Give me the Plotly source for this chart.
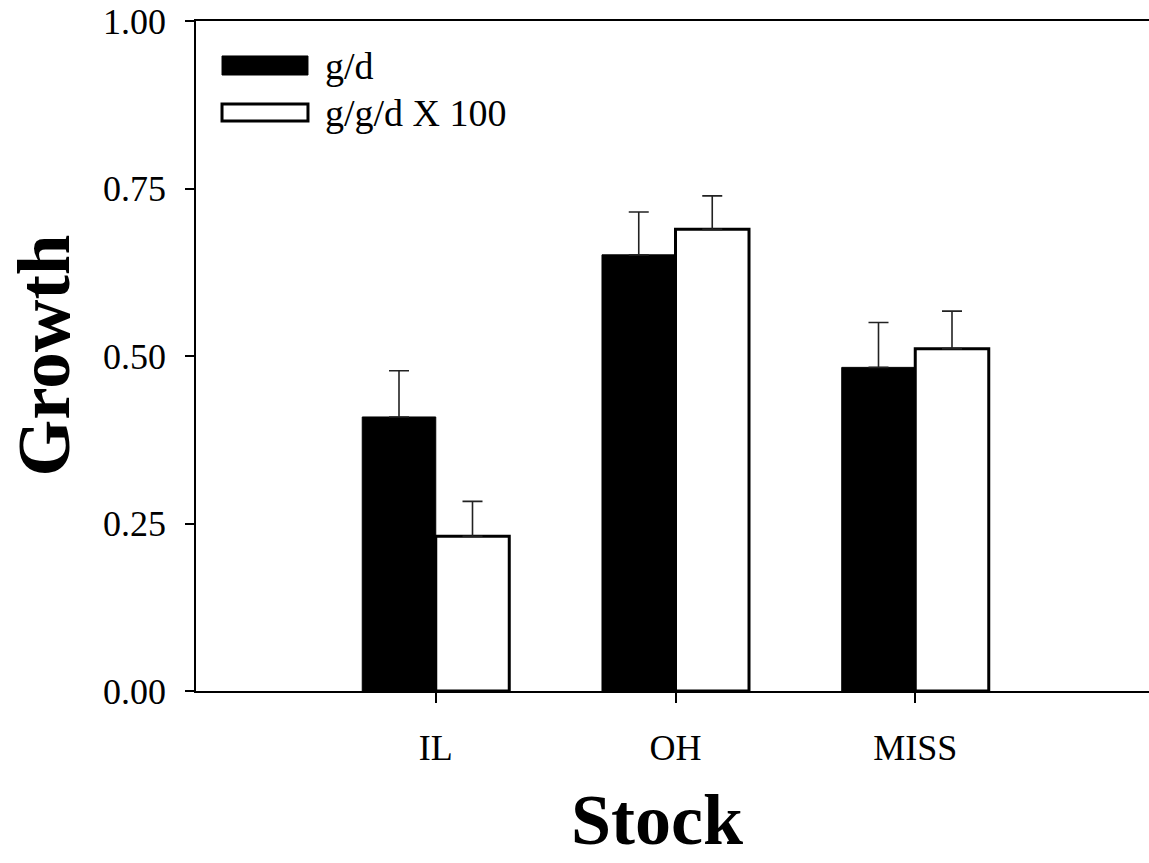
import plotly.graph_objects as go

# Growth by stock: mean g/d and g/g/d x 100 with upper standard-error bars
stocks = ["IL", "OH", "MISS"]
growth_gd = [0.409, 0.651, 0.483]
growth_gd_err = [0.069, 0.064, 0.067]
growth_ggd = [0.231, 0.689, 0.511]
growth_ggd_err = [0.052, 0.050, 0.056]
series_names = ["g/d", "g/g/d X 100"]
y_ticks = [0.0, 0.25, 0.50, 0.75, 1.00]

FONT = "Liberation Serif, Times New Roman, serif"
positions = [i + 1 for i in range(len(stocks))]
bar_w = 0.3066

fig = go.Figure()
fig.add_trace(go.Bar(
    x=positions, y=growth_gd, width=bar_w, offset=-bar_w,
    name=series_names[0],
    marker=dict(color="black", line=dict(color="black", width=1)),
    error_y=dict(type="data", symmetric=False, array=growth_gd_err,
                 arrayminus=[0] * len(stocks), color="#222222",
                 thickness=1.6, width=10),
))
fig.add_trace(go.Bar(
    x=positions, y=growth_ggd, width=bar_w, offset=0,
    name=series_names[1],
    marker=dict(color="white", line=dict(color="black", width=3)),
    error_y=dict(type="data", symmetric=False, array=growth_ggd_err,
                 arrayminus=[0] * len(stocks), color="#222222",
                 thickness=1.6, width=10),
))

L, R, T, B = 196, 0, 21, 172
W, H = 1149, 863
span = (W - L - R) / 239.75

fig.update_layout(
    width=W, height=H,
    margin=dict(l=L, r=R, t=T, b=B, pad=0),
    paper_bgcolor="white", plot_bgcolor="white",
    showlegend=False,
    font=dict(family=FONT, color="black", size=36),
    xaxis=dict(
        range=[0, span], tickvals=positions, ticktext=stocks,
        showgrid=False, zeroline=False,
        showline=True, linecolor="black", linewidth=2, mirror=True,
        ticks="outside", ticklen=10, tickwidth=1.5, tickcolor="black",
        tickfont=dict(family=FONT, size=36), ticklabelstandoff=14,
    ),
    yaxis=dict(
        range=[0, 1.0], tickvals=y_ticks,
        ticktext=[f"{v:.2f}" for v in y_ticks],
        showgrid=False, zeroline=False,
        showline=True, linecolor="black", linewidth=1.5,
        ticks="outside", ticklen=9, tickwidth=1.5, tickcolor="black",
        tickfont=dict(family=FONT, size=36), ticklabelstandoff=12,
    ),
)

# Axis titles
fig.add_annotation(text="<b>Stock</b>", xref="paper", yref="paper",
                   x=0.4837, y=-0.2546, xanchor="center", yanchor="bottom",
                   showarrow=False, font=dict(family=FONT, size=72))
fig.add_annotation(text="<b>Growth</b>", xref="paper", yref="paper",
                   x=-0.16, y=0.5, xanchor="center", yanchor="middle",
                   textangle=-90, showarrow=False,
                   font=dict(family=FONT, size=73))

# Legend swatches and labels
swatches = [
    dict(fill="black", lw=1, y0=0.9194, y1=0.9478, ty=0.9328),
    dict(fill="white", lw=3, y0=0.8507, y1=0.8761, ty=0.8627),
]
for sw, name in zip(swatches, series_names):
    fig.add_shape(type="rect", xref="paper", yref="paper",
                  x0=0.0273, x1=0.1175, y0=sw["y0"], y1=sw["y1"],
                  fillcolor=sw["fill"], line=dict(color="black", width=sw["lw"]))
    fig.add_annotation(text=name, xref="paper", yref="paper",
                       x=0.1333, y=sw["ty"], xanchor="left", yanchor="middle",
                       showarrow=False, font=dict(family=FONT, size=38))

fig.write_html("out.html")
